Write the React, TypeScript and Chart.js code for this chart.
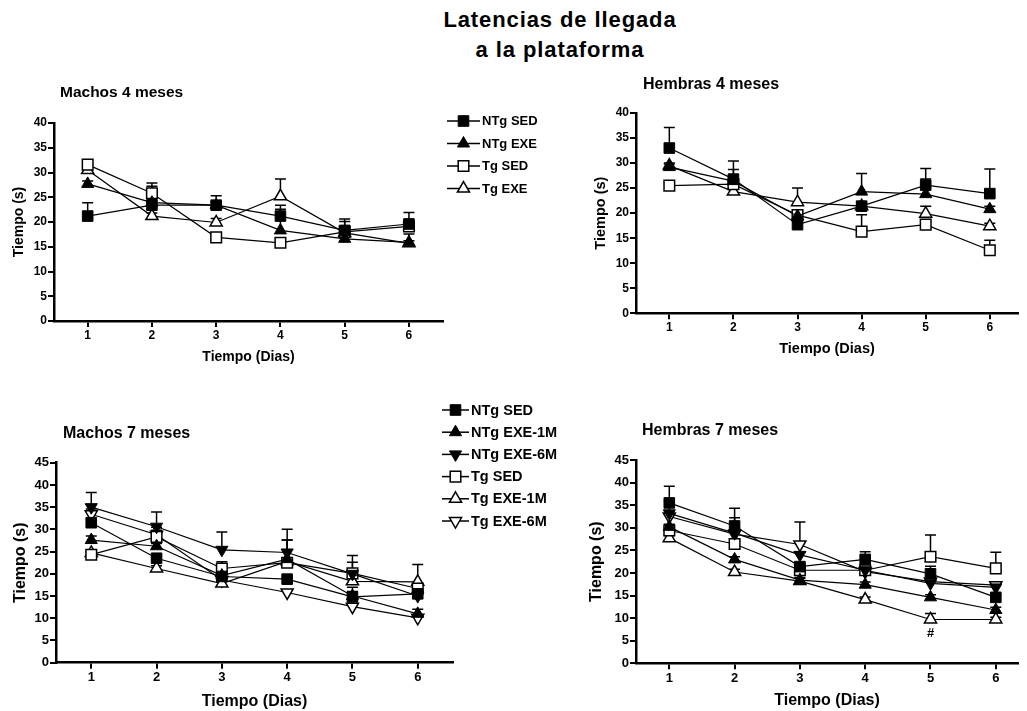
import React, { useEffect, useRef } from 'react';
import { Chart, registerables } from 'chart.js';

Chart.register(...registerables);

const FONT = '"Liberation Sans", Arial, Helvetica, sans-serif';

// ---------------- data ----------------
const DAYS = [1, 2, 3, 4, 5, 6];

// Machos 4 meses
const M4_NTG_SED = [21.2, 23.4, 23.4, 21.2, 18.3, 19.6];
const M4_NTG_SED_ERR = [2.7, 3.8, 1.9, 2.2, 2.3, 2.3];
const M4_NTG_EXE = [27.7, 23.9, 23.4, 18.3, 16.6, 15.9];
const M4_NTG_EXE_ERR = [0.6, 0.6, 0.6, 4.3, 0.6, 1.7];
const M4_TG_SED = [31.6, 25.8, 16.9, 15.8, 18.0, 19.1];
const M4_TG_SED_ERR = [0.8, 2.1, 0.5, 0.6, 2.1, 0.8];
const M4_TG_EXE = [30.5, 21.2, 19.9, 25.2, 17.8, 15.7];
const M4_TG_EXE_ERR = [1.2, 0.6, 0.8, 3.5, 0.8, 0.5];

// Hembras 4 meses
const H4_NTG_SED = [33.0, 26.8, 17.7, 21.4, 25.6, 23.9];
const H4_NTG_SED_ERR = [4.1, 3.6, 0.6, 0.6, 3.3, 4.9];
const H4_NTG_EXE = [29.2, 26.4, 19.4, 24.3, 23.8, 20.8];
const H4_NTG_EXE_ERR = [0.6, 2.3, 0.6, 3.6, 3.0, 0.6];
const H4_TG_SED = [25.5, 25.8, 19.6, 16.3, 17.7, 12.6];
const H4_TG_SED_ERR = [0.5, 0.6, 0.6, 3.4, 0.6, 2.0];
const H4_TG_EXE = [29.5, 24.3, 22.2, 21.4, 19.9, 17.4];
const H4_TG_EXE_ERR = [0.5, 0.6, 2.8, 0.6, 1.5, 0.6];

// Machos 7 meses
const M7_NTG_SED = [31.5, 23.5, 19.4, 18.8, 14.8, 15.5];
const M7_NTG_SED_ERR = [0.6, 0.6, 0.6, 0.6, 1.2, 0.6];
const M7_NTG_EXE1 = [27.6, 26.2, 19.6, 23.3, 15.0, 11.0];
const M7_NTG_EXE1_ERR = [0.9, 0.6, 0.6, 4.3, 2.0, 1.0];
const M7_NTG_EXE6 = [35.0, 30.6, 25.4, 24.8, 20.0, 15.0];
const M7_NTG_EXE6_ERR = [3.3, 3.3, 4.0, 5.2, 4.1, 0.8];
const M7_TG_SED = [24.3, 28.3, 21.2, 22.5, 20.1, 16.7];
const M7_TG_SED_ERR = [0.6, 1.5, 1.5, 1.0, 2.5, 0.6];
const M7_TG_EXE1 = [24.7, 21.2, 17.8, 22.8, 18.3, 18.2];
const M7_TG_EXE1_ERR = [0.5, 0.6, 0.6, 4.8, 0.8, 3.9];
const M7_TG_EXE6 = [33.4, 28.8, 18.6, 15.8, 12.6, 10.1];
const M7_TG_EXE6_ERR = [1.2, 1.7, 1.4, 0.6, 0.7, 0.6];

// Hembras 7 meses
const H7_NTG_SED = [35.5, 30.4, 21.4, 23.0, 19.8, 14.6];
const H7_NTG_SED_ERR = [3.7, 3.9, 0.6, 1.7, 1.7, 0.6];
const H7_NTG_EXE1 = [30.2, 23.0, 18.4, 17.4, 14.6, 11.8];
const H7_NTG_EXE1_ERR = [0.6, 0.6, 0.6, 0.6, 0.6, 0.6];
const H7_NTG_EXE6 = [33.2, 28.8, 24.0, 20.6, 17.7, 16.8];
const H7_NTG_EXE6_ERR = [2.7, 3.4, 0.6, 0.6, 1.6, 0.7];
const H7_TG_SED = [29.4, 26.4, 20.6, 20.6, 23.6, 21.0];
const H7_TG_SED_ERR = [0.6, 0.6, 0.6, 0.6, 4.8, 3.6];
const H7_TG_EXE1 = [27.7, 20.2, 18.2, 14.1, 9.7, 9.7];
const H7_TG_EXE1_ERR = [0.6, 0.6, 0.6, 0.6, 1.3, 0.5];
const H7_TG_EXE6 = [32.5, 28.6, 26.3, 20.3, 18.1, 17.3];
const H7_TG_EXE6_ERR = [0.6, 0.6, 5.0, 0.6, 0.6, 0.6];
const H7_MARK = { day: 5, value: 6.7, text: '#' };

const LABELS_4M = ['NTg SED', 'NTg EXE', 'Tg SED', 'Tg EXE'];
const LABELS_7M = ['NTg SED', 'NTg EXE-1M', 'NTg EXE-6M', 'Tg SED', 'Tg EXE-1M', 'Tg EXE-6M'];
const MARKERS_4M = ['sqFill', 'triFill', 'sqOpen', 'triOpen'];
const MARKERS_7M = ['sqFill', 'triFill', 'triDownFill', 'sqOpen', 'triOpen', 'triDownOpen'];

const MAIN_TITLE = ['Latencias de llegada', 'a la plataforma'];
const X_TITLE = 'Tiempo (Dias)';
const Y_TITLE = 'Tiempo (s)';

// ---------------- styles ----------------
type MarkerDef = { style: 'rect' | 'triangle'; filled: boolean; rot: number; radius: number };
const MARKER_STYLES: Record<string, MarkerDef> = {
  sqFill: { style: 'rect', filled: true, rot: 0, radius: 7.5 },
  sqOpen: { style: 'rect', filled: false, rot: 0, radius: 7.5 },
  triFill: { style: 'triangle', filled: true, rot: 0, radius: 7 },
  triOpen: { style: 'triangle', filled: false, rot: 0, radius: 7 },
  triDownFill: { style: 'triangle', filled: true, rot: 180, radius: 7 },
  triDownOpen: { style: 'triangle', filled: false, rot: 180, radius: 7 },
};

function drawMarker(ctx: CanvasRenderingContext2D, key: string, x: number, y: number) {
  const m = MARKER_STYLES[key];
  ctx.save();
  ctx.beginPath();
  if (m.style === 'rect') {
    const s = m.radius * Math.SQRT1_2;
    ctx.rect(x - s, y - s, 2 * s, 2 * s);
  } else {
    const r = m.radius;
    let a = (m.rot * Math.PI) / 180;
    ctx.moveTo(x + Math.sin(a) * r, y - Math.cos(a) * r);
    a += (2 * Math.PI) / 3;
    ctx.lineTo(x + Math.sin(a) * r, y - Math.cos(a) * r);
    a += (2 * Math.PI) / 3;
    ctx.lineTo(x + Math.sin(a) * r, y - Math.cos(a) * r);
    ctx.closePath();
  }
  ctx.fillStyle = m.filled ? '#000' : '#fff';
  ctx.fill();
  ctx.lineWidth = m.filled ? 1 : 1.5;
  ctx.strokeStyle = '#000';
  ctx.stroke();
  ctx.restore();
}

type Series = { label: string; values: number[]; errors: number[]; marker: string };

type Panel = {
  title: string;
  series: Series[];
  box: { left: number; top: number; width: number; height: number };
  area: { left: number; top: number; right: number; bottom: number };
  xMin: number;
  xMax: number;
  yMax: number;
  tickFont: number;
  axisFont: number;
  titleFont: number;
  yTitlePad: number;
  xTitlePad: number;
  titlePos: { x: number; y: number };
  legend?: { labels: string[]; markers: string[]; x0: number; x1: number; tx: number; y0: number; dy: number; font: number };
  mark?: { day: number; value: number; text: string };
};

function mk(labels: string[], markers: string[], vals: number[][], errs: number[][]): Series[] {
  return labels.map((l, i) => ({ label: l, values: vals[i], errors: errs[i], marker: markers[i] }));
}

const PANELS: Panel[] = [
  {
    title: 'Machos 4 meses',
    series: mk(LABELS_4M, MARKERS_4M, [M4_NTG_SED, M4_NTG_EXE, M4_TG_SED, M4_TG_EXE], [M4_NTG_SED_ERR, M4_NTG_EXE_ERR, M4_TG_SED_ERR, M4_TG_EXE_ERR]),
    box: { left: 0, top: 75, width: 560, height: 300 },
    area: { left: 54, top: 48, right: 443, bottom: 246 },
    xMin: 0.476, xMax: 6.53, yMax: 40,
    tickFont: 12, axisFont: 14, titleFont: 15.5,
    yTitlePad: 10.6, xTitlePad: 9.9,
    titlePos: { x: 60, y: 18 },
    legend: { labels: LABELS_4M, markers: MARKERS_4M, x0: 447, x1: 480, tx: 482, y0: 46, dy: 22.5, font: 13 },
  },
  {
    title: 'Hembras 4 meses',
    series: mk(LABELS_4M, MARKERS_4M, [H4_NTG_SED, H4_NTG_EXE, H4_TG_SED, H4_TG_EXE], [H4_NTG_SED_ERR, H4_NTG_EXE_ERR, H4_TG_SED_ERR, H4_TG_EXE_ERR]),
    box: { left: 560, top: 65, width: 467, height: 305 },
    area: { left: 76, top: 48, right: 467, bottom: 248.3 },
    xMin: 0.48, xMax: 6.44, yMax: 40,
    tickFont: 12, axisFont: 14.5, titleFont: 16,
    yTitlePad: 32.3, xTitlePad: 12,
    titlePos: { x: 83, y: 20 },
  },
  {
    title: 'Machos 7 meses',
    series: mk(LABELS_7M, MARKERS_7M, [M7_NTG_SED, M7_NTG_EXE1, M7_NTG_EXE6, M7_TG_SED, M7_TG_EXE1, M7_TG_EXE6], [M7_NTG_SED_ERR, M7_NTG_EXE1_ERR, M7_NTG_EXE6_ERR, M7_TG_SED_ERR, M7_TG_EXE1_ERR, M7_TG_EXE6_ERR]),
    box: { left: 0, top: 380, width: 560, height: 331 },
    area: { left: 56, top: 82.7, right: 453, bottom: 282.7 },
    xMin: 0.46, xMax: 6.54, yMax: 45,
    tickFont: 13, axisFont: 16, titleFont: 16,
    yTitlePad: 11.2, xTitlePad: 0,
    titlePos: { x: 63, y: 54 },
    legend: { labels: LABELS_7M, markers: MARKERS_7M, x0: 442, x1: 469, tx: 471, y0: 30, dy: 22.2, font: 14.5 },
  },
  {
    title: 'Hembras 7 meses',
    series: mk(LABELS_7M, MARKERS_7M, [H7_NTG_SED, H7_NTG_EXE1, H7_NTG_EXE6, H7_TG_SED, H7_TG_EXE1, H7_TG_EXE6], [H7_NTG_SED_ERR, H7_NTG_EXE1_ERR, H7_NTG_EXE6_ERR, H7_TG_SED_ERR, H7_TG_EXE1_ERR, H7_TG_EXE6_ERR]),
    box: { left: 560, top: 380, width: 467, height: 331 },
    area: { left: 76, top: 80, right: 467, bottom: 283.3 },
    xMin: 0.49, xMax: 6.34, yMax: 45,
    tickFont: 13, axisFont: 16, titleFont: 16,
    yTitlePad: 27.4, xTitlePad: 0.7,
    titlePos: { x: 82, y: 51 },
    mark: H7_MARK,
  },
];

function overlayPlugin(p: Panel) {
  return {
    id: 'overlay',
    beforeDatasetsDraw(chart: any) {
      const ctx: CanvasRenderingContext2D = chart.ctx;
      const yScale = chart.scales.y;
      ctx.save();
      ctx.strokeStyle = '#000';
      ctx.lineWidth = 1.5;
      chart.data.datasets.forEach((ds: any, di: number) => {
        const meta = chart.getDatasetMeta(di);
        meta.data.forEach((el: any, i: number) => {
          const v = ds.data[i].y;
          const e = ds.errors[i];
          const yTop = yScale.getPixelForValue(v + e);
          ctx.beginPath();
          ctx.moveTo(el.x, el.y);
          ctx.lineTo(el.x, yTop);
          ctx.moveTo(el.x - 5.5, yTop);
          ctx.lineTo(el.x + 5.5, yTop);
          ctx.stroke();
        });
      });
      ctx.restore();
    },
    afterDraw(chart: any) {
      const ctx: CanvasRenderingContext2D = chart.ctx;
      ctx.save();
      ctx.fillStyle = '#000';
      ctx.textBaseline = 'middle';
      ctx.textAlign = 'left';
      ctx.font = `bold ${p.titleFont}px ${FONT}`;
      ctx.fillText(p.title, p.titlePos.x, p.titlePos.y);
      if (p.legend) {
        const L = p.legend;
        ctx.font = `bold ${L.font}px ${FONT}`;
        L.labels.forEach((lab, i) => {
          const y = L.y0 + i * L.dy;
          ctx.beginPath();
          ctx.strokeStyle = '#000';
          ctx.lineWidth = 1.5;
          ctx.moveTo(L.x0, y);
          ctx.lineTo(L.x1, y);
          ctx.stroke();
          drawMarker(ctx, L.markers[i], (L.x0 + L.x1) / 2, y);
          ctx.fillStyle = '#000';
          ctx.fillText(lab, L.tx, y + 0.5);
        });
      }
      if (p.mark) {
        ctx.font = `bold 13px ${FONT}`;
        ctx.textAlign = 'center';
        ctx.fillText(p.mark.text, chart.scales.x.getPixelForValue(p.mark.day), chart.scales.y.getPixelForValue(p.mark.value));
      }
      ctx.restore();
    },
  };
}

function buildConfig(p: Panel): any {
  const datasets = p.series.map((s) => {
    const m = MARKER_STYLES[s.marker];
    return {
      label: s.label,
      data: DAYS.map((d, i) => ({ x: d, y: s.values[i] })),
      errors: s.errors,
      showLine: true,
      borderColor: '#000',
      borderWidth: 1.2,
      backgroundColor: m.filled ? '#000' : '#fff',
      pointStyle: m.style,
      pointRotation: m.rot,
      pointRadius: m.radius,
      pointBackgroundColor: m.filled ? '#000' : '#fff',
      pointBorderColor: '#000',
      pointBorderWidth: m.filled ? 1 : 1.5,
      fill: false,
      tension: 0,
      clip: false,
    };
  });
  const tickFont = { size: p.tickFont, weight: 'bold', family: FONT };
  const titleFont = { size: p.axisFont, weight: 'bold', family: FONT };
  const grid = { display: true, drawOnChartArea: false, drawTicks: true, tickLength: 6, tickColor: '#000', tickWidth: 2, lineWidth: 2, color: '#000' };
  const border = { display: true, color: '#000', width: 2.5 };
  return {
    type: 'scatter',
    data: { datasets },
    options: {
      responsive: false,
      animation: false,
      events: [],
      devicePixelRatio: 1,
      layout: { padding: { left: 0, top: p.area.top, right: p.box.width - p.area.right, bottom: 0 } },
      plugins: { legend: { display: false }, tooltip: { enabled: false }, title: { display: false } },
      scales: {
        x: {
          type: 'linear',
          min: p.xMin,
          max: p.xMax,
          afterBuildTicks: (axis: any) => {
            axis.ticks = DAYS.map((v) => ({ value: v }));
          },
          afterFit: (axis: any) => {
            axis.height = p.box.height - p.area.bottom;
          },
          grid,
          border,
          ticks: { color: '#000', font: tickFont, padding: 1, maxRotation: 0, autoSkip: false },
          title: { display: true, text: X_TITLE, color: '#000', font: titleFont, padding: { top: 0, bottom: p.xTitlePad } },
        },
        y: {
          type: 'linear',
          min: 0,
          max: p.yMax,
          afterFit: (axis: any) => {
            axis.width = p.area.left;
          },
          grid,
          border,
          ticks: { color: '#000', font: tickFont, padding: 1, stepSize: 5, autoSkip: false },
          title: { display: true, text: Y_TITLE, color: '#000', font: titleFont, padding: { top: p.yTitlePad, bottom: 0 } },
        },
      },
    },
    plugins: [overlayPlugin(p)],
  };
}

export default function App() {
  const refs = useRef<(HTMLCanvasElement | null)[]>([]);
  useEffect(() => {
    const charts = PANELS.map((p, i) => new Chart(refs.current[i] as HTMLCanvasElement, buildConfig(p)));
    return () => charts.forEach((c) => c.destroy());
  }, []);
  return (
    <div style={{ position: 'absolute', left: 0, top: 0, width: 1027, height: 711, background: '#fff', overflow: 'hidden' }}>
      <div
        style={{
          position: 'absolute',
          left: 360,
          top: 5,
          width: 400,
          textAlign: 'center',
          font: `bold 22px ${FONT}`,
          lineHeight: '30px',
          letterSpacing: '0.9px',
          color: '#000',
        }}
      >
        {MAIN_TITLE[0]}
        <br />
        {MAIN_TITLE[1]}
      </div>
      {PANELS.map((p, i) => (
        <canvas
          key={i}
          ref={(el) => {
            refs.current[i] = el;
          }}
          width={p.box.width}
          height={p.box.height}
          style={{ position: 'absolute', left: p.box.left, top: p.box.top, width: p.box.width, height: p.box.height }}
        />
      ))}
    </div>
  );
}
